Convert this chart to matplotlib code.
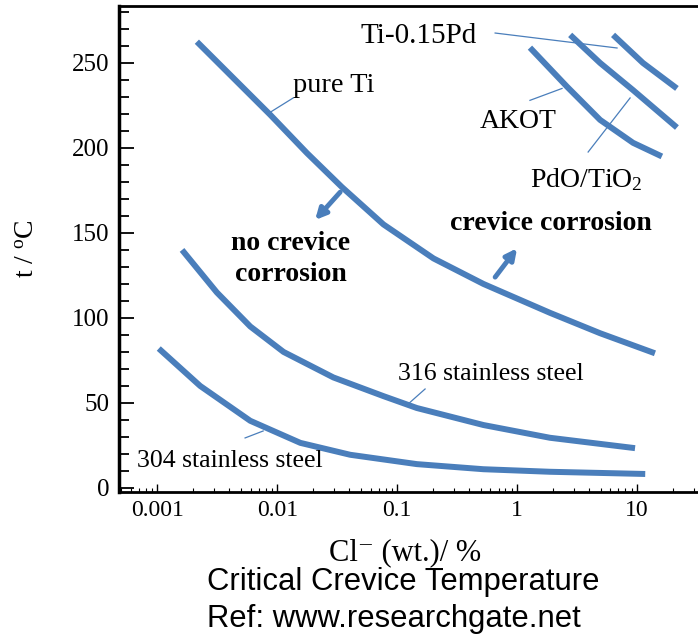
import matplotlib
matplotlib.use("Agg")
import matplotlib.pyplot as plt
from matplotlib.ticker import MultipleLocator, LogLocator, FixedLocator, NullFormatter

# Cl- content (wt.%) and critical crevice temperature (deg C)
ti_x = [0.00214, 0.00875, 0.0177, 0.0346, 0.0769, 0.201, 0.524, 1.88, 4.92, 14.1]
ti_y = [262.5, 219.5, 197, 177, 155, 135, 120, 103, 91, 79.2]

ss316_x = [0.00161, 0.00314, 0.00596, 0.0113, 0.0294, 0.0769, 0.146, 0.524, 1.88, 9.62]
ss316_y = [140, 115, 95, 80, 65, 54, 47, 37, 29.5, 23.4]

ss304_x = [0.00103, 0.00228, 0.00596, 0.0156, 0.0406, 0.146, 0.524, 1.88, 11.7]
ss304_y = [82, 60, 39.5, 26.5, 19.5, 14, 11, 9.5, 8.2]

akot_x = [1.28, 2.61, 4.92, 9.27, 16.1]
akot_y = [259, 236, 216.5, 203, 195]

pdo_x = [2.77, 4.92, 9.27, 21.5]
pdo_y = [266.5, 250, 234, 212]

tipd_x = [6.31, 11.2, 21.5]
tipd_y = [266.5, 250, 235]

x_ticks = [0.001, 0.01, 0.1, 1, 10]
x_ticklabels = ["0.001", "0.01", "0.1", "1", "10"]
y_ticks = [0, 50, 100, 150, 200, 250]

blue = "#4a7ebb"
serif = "Liberation Serif"
sans = "Liberation Sans"

plt.rcParams["font.family"] = [serif, "DejaVu Serif"]
plt.rcParams["mathtext.fontset"] = "custom"
plt.rcParams["mathtext.rm"] = serif

fig = plt.figure(figsize=(6.98, 6.37), dpi=100)
ax = fig.add_axes([119 / 698, 1 - 492 / 637, 638 / 698, 486 / 637])

for xs, ys in [(ti_x, ti_y), (ss316_x, ss316_y), (ss304_x, ss304_y),
               (akot_x, akot_y), (pdo_x, pdo_y), (tipd_x, tipd_y)]:
    ax.plot(xs, ys, color=blue, lw=4.3, solid_capstyle="butt", solid_joinstyle="round")

ax.set_xscale("log")
ax.set_xlim(0.00048, 100)
ax.set_ylim(-2.4, 283.5)

ax.xaxis.set_major_locator(FixedLocator(x_ticks))
ax.set_xticklabels(x_ticklabels)
ax.xaxis.set_minor_locator(LogLocator(base=10, subs=range(2, 10), numticks=20))
ax.xaxis.set_minor_formatter(NullFormatter())
ax.set_yticks(y_ticks)
ax.yaxis.set_minor_locator(MultipleLocator(10))

ax.tick_params(axis="y", which="major", direction="in", length=10.5, width=1.3, labelsize=18, pad=7)
ax.tick_params(axis="y", which="minor", direction="in", length=7, width=1.3)
ax.tick_params(axis="x", which="major", direction="in", length=6, width=1.0, labelsize=17, pad=6)
ax.tick_params(axis="x", which="minor", direction="in", length=3, width=0.8)

ax.spines["left"].set_linewidth(2.5)
ax.spines["bottom"].set_linewidth(2.0)
ax.spines["top"].set_linewidth(2.0)
ax.spines["right"].set_visible(False)

ax.set_ylabel(r"t / $\mathregular{^o}$C", fontsize=20)
ax.yaxis.set_label_coords(-0.124, 0.5)
ax.set_xlabel("Cl\u207b (wt.)/ %", fontsize=22, family=[serif, "DejaVu Serif"])
ax.xaxis.set_label_coords(0.448, -0.095)

# curve labels and their leader lines
ax.text(0.01359, 233, "pure Ti", fontsize=20.5, va="baseline")
ax.plot([0.00875, 0.01359], [221, 229.4], color=blue, lw=0.9)
ax.text(0.0492, 261.8, "Ti-0.15Pd", fontsize=21, va="baseline")
ax.plot([0.656, 6.81], [267.6, 258.8], color=blue, lw=0.9)
ax.text(0.492, 211.8, "AKOT", fontsize=20, va="baseline")
ax.plot([1.28, 2.37], [228, 235], color=blue, lw=0.9)
ax.text(1.28, 177, r"PdO/TiO$\mathregular{_2}$", fontsize=20, va="baseline")
ax.plot([3.91, 8.75], [197.6, 229.4], color=blue, lw=0.9)
ax.text(0.1019, 63.5, "316 stainless steel", fontsize=18.5, va="baseline")
ax.plot([0.121, 0.171], [48.8, 58.2], color=blue, lw=0.9)
ax.text(0.000681, 12.4, "304 stainless steel", fontsize=18.5, va="baseline")
ax.plot([0.0054, 0.00764], [29.4, 33.5], color=blue, lw=0.9)

# region labels with arrows
ax.text(0.01283, 140, "no crevice", fontsize=20, fontweight="bold", ha="center", va="baseline")
ax.text(0.01300, 122, "corrosion", fontsize=20, fontweight="bold", ha="center", va="baseline")
ax.text(0.2767, 151.8, "crevice corrosion", fontsize=20, fontweight="bold", va="baseline")
ax.annotate("", xy=(0.0207, 157.6), xytext=(0.0335, 174),
            arrowprops=dict(arrowstyle="-|>", color=blue, lw=3.5, mutation_scale=16,
                            shrinkA=0, shrinkB=0))
ax.annotate("", xy=(1.0, 141), xytext=(0.656, 124),
            arrowprops=dict(arrowstyle="-|>", color=blue, lw=3.5, mutation_scale=16,
                            shrinkA=0, shrinkB=0))

fig.text(207 / 698, 1 - 590 / 637, "Critical Crevice Temperature", fontsize=22.3,
         family=sans, va="baseline")
fig.text(207 / 698, 1 - 627 / 637, "Ref: www.researchgate.net", fontsize=22.3,
         family=sans, va="baseline")

fig.savefig("out.png", dpi=100)
